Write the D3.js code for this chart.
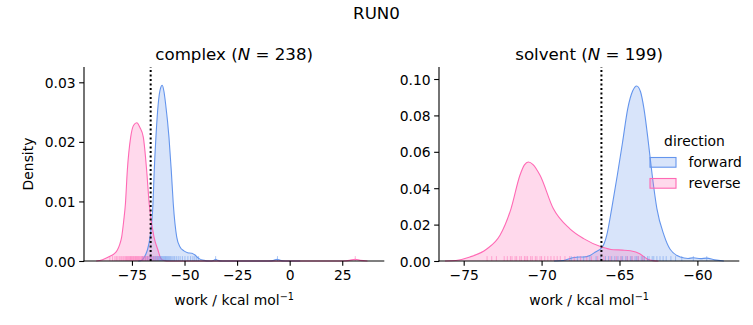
<!DOCTYPE html>
<html>
<head>
<meta charset="utf-8">
<script src="https://cdn.jsdelivr.net/npm/d3@7"></script>
<style>
  html, body { margin: 0; padding: 0; background: #fff; }
  svg { display: block; font-family: "DejaVu Sans", sans-serif; }
</style>
</head>
<body>
<svg id="chart" width="753" height="325"></svg>
<script>
// ---------------- data ----------------
const directions = ["forward", "reverse"];
const colors = ["#6495ED", "#FF69B4"];
const phases = ["complex", "solvent"];
const phaseN = [238, 199];
const refLine = [-66.1, -66.16];

// KDE curves: [work, density]
const complexForward = [
  [-72, 0], [-70.5, 0.0001], [-69.6, 0.0004], [-68.6, 0.0010], [-67.7, 0.0018], [-66.4, 0.0040],
  [-65.0, 0.0096], [-64.4, 0.0152], [-63.6, 0.0208], [-62.5, 0.0264], [-61.5, 0.0289],
  [-60.6, 0.0295], [-59.8, 0.0285], [-59.0, 0.0264], [-57.4, 0.0208], [-56.3, 0.0152],
  [-55.35, 0.0096], [-53.7, 0.0040], [-52.2, 0.0024], [-50.3, 0.0017], [-48.5, 0.0014],
  [-46.5, 0.0013], [-45.0, 0.0010], [-43.1, 0.0004], [-40.7, 0.0001], [-38, 0.0000],
  [-36.2, 0.0001], [-35.2, 0.0003], [-34.2, 0.0001], [-32, 0], [-10, 0], [-7.5, 0.0001],
  [-6.0, 0.0003], [-4.5, 0.0001], [-2, 0], [5, 0]
];
const complexReverse = [
  [-92, 0], [-89, 0.0002], [-86, 0.0007], [-83.5, 0.0012], [-82.0, 0.0018], [-80.8, 0.0028],
  [-79.9, 0.0040], [-78.9, 0.0068], [-78.1, 0.0096], [-77.2, 0.0152], [-75.6, 0.0208],
  [-74.2, 0.0228], [-72.7, 0.0232], [-71.2, 0.0224], [-69.6, 0.0208], [-68.0, 0.0152],
  [-66.8, 0.0096], [-64.5, 0.0040], [-62.6, 0.0018], [-61.5, 0.0006], [-60.0, 0.0001],
  [-57, 0], [25, 0], [28.5, 0.0001], [31.2, 0.0003], [33.5, 0.0001], [37, 0]
];
const solventForward = [
  [-69.2, 0], [-68.6, 0.0003], [-68.0, 0.0018], [-67.6, 0.0022], [-67.3, 0.0022],
  [-66.9, 0.0030], [-66.57, 0.0048], [-66.1, 0.0077], [-65.82, 0.0141], [-65.5, 0.0288],
  [-65.14, 0.0471], [-64.8, 0.0654], [-64.47, 0.0837], [-64.15, 0.0935], [-63.9, 0.0962],
  [-63.65, 0.0930], [-63.43, 0.0837], [-63.15, 0.0654], [-62.9, 0.0471], [-62.6, 0.0288],
  [-62.14, 0.0141], [-61.76, 0.0066], [-61.1, 0.0022], [-60.6, 0.0014], [-60.26, 0.0018],
  [-59.8, 0.0013], [-59.4, 0.0016], [-58.9, 0.0006], [-58.3, 0]
];
const solventReverse = [
  [-76.2, 0], [-75.5, 0.0003], [-74.6, 0.0022], [-73.52, 0.0066], [-72.67, 0.0141],
  [-71.96, 0.0288], [-71.39, 0.0471], [-71.1, 0.0528], [-70.85, 0.0544], [-70.55, 0.0530],
  [-70.1, 0.0471], [-69.25, 0.0288], [-68.2, 0.0178], [-67.3, 0.0123], [-66.14, 0.0077],
  [-65.4, 0.0062], [-64.8, 0.0060], [-64.3, 0.0056], [-63.7, 0.0040], [-63.25, 0.0013],
  [-62.85, 0.0002], [-62.5, 0]
];

// rug samples (work values)
const complexForwardRug = [-69.8, -68.5, -67.6, -66.8, -66.1, -65.5, -64.9, -64.4, -63.9, -63.4, -63.0,
  -62.6, -62.2, -61.8, -61.4, -61.0, -60.6, -60.2, -59.8, -59.4, -59.0, -58.6, -58.1, -57.6, -57.1,
  -56.6, -56.0, -55.4, -54.7, -53.9, -53.0, -52.1, -51.0, -49.8, -48.4, -47.1, -46.0, -45.1, -44.2,
  -43.3, -35.2, -5.8];
const complexReverseRug = [-85.5, -84.2, -83.1, -82.4, -81.7, -81.0, -80.3, -79.8, -79.2, -78.7, -78.1,
  -77.6, -77.2, -76.8, -76.4, -76.0, -75.7, -75.3, -75.0, -74.6, -74.3, -73.9, -73.5, -73.2, -72.9,
  -72.5, -72.2, -71.8, -71.5, -71.1, -70.7, -70.4, -70.0, -69.6, -69.2, -68.8, -68.3, -67.9, -67.4,
  -66.9, -66.3, -65.6, -64.8, -63.9, -62.7, 31.2];
const solventForwardRug = [-68.1, -67.7, -67.3, -66.9, -66.5, -66.2, -65.9, -65.7, -65.5, -65.3, -65.1,
  -64.9, -64.8, -64.6, -64.5, -64.3, -64.2, -64.0, -63.9, -63.8, -63.6, -63.5, -63.4, -63.2, -63.1,
  -62.9, -62.8, -62.6, -62.4, -62.2, -62.0, -61.7, -61.4, -61.0, -60.26, -59.4];
const solventReverseRug = [-73.5, -73.2, -72.9, -72.4, -72.2, -72.0, -71.9, -71.7, -71.6, -71.4, -71.3,
  -71.1, -71.0, -70.9, -70.7, -70.6, -70.4, -70.3, -70.1, -70.0, -69.8, -69.6, -69.4, -69.2, -69.0,
  -68.8, -68.5, -68.2, -67.9, -67.5, -67.1, -66.8, -66.4, -66.0, -65.6, -65.2, -64.9, -64.5, -64.2,
  -63.8, -63.5];

const xTicksComplex = [-75, -50, -25, 0, 25];
const yTicksComplex = [0, 0.01, 0.02, 0.03];
const xTicksSolvent = [-75, -70, -65, -60];
const yTicksSolvent = [0, 0.02, 0.04, 0.06, 0.08, 0.10];

// ---------------- layout ----------------
const svg = d3.select("#chart");
const FONT = 13.89;
const minus = s => s.replace(/-/g, "\u2212");

const panels = [
  { name: phases[0], n: phaseN[0], left: 84, right: 384.3, xDom: [-97.8, 45.0], yDom: [0, 0.03257],
    curves: [complexForward, complexReverse], rugs: [complexForwardRug, complexReverseRug],
    xTicks: xTicksComplex, yTicks: yTicksComplex, xFmt: d3.format("d"), ref: refLine[0], ylabel: true },
  { name: phases[1], n: phaseN[1], left: 439, right: 739.3, xDom: [-76.585, -57.31], yDom: [0, 0.1066],
    curves: [solventForward, solventReverse], rugs: [solventForwardRug, solventReverseRug],
    xTicks: xTicksSolvent, yTicks: yTicksSolvent, xFmt: d3.format("d"), ref: refLine[1], ylabel: false, legend: true }
];
const axTop = 67, axBottom = 261;

svg.append("text").attr("x", 376.5).attr("y", 19).attr("text-anchor", "middle")
  .attr("font-size", 16.67).attr("fill", "#000").text("RUN0");

panels.forEach(p => {
  const x = d3.scaleLinear().domain(p.xDom).range([p.left, p.right]);
  const y = d3.scaleLinear().domain(p.yDom).range([axBottom, axTop]);
  const g = svg.append("g");

  const area = d3.area().x(d => x(d[0])).y0(y(0)).y1(d => y(d[1])).curve(d3.curveMonotoneX);
  const line = d3.line().x(d => x(d[0])).y(d => y(d[1])).curve(d3.curveMonotoneX);

  p.curves.forEach((c, i) => {
    g.append("path").attr("d", area(c)).attr("fill", colors[i]).attr("fill-opacity", 0.25).attr("stroke", "none");
  });
  p.curves.forEach((c, i) => {
    g.append("path").attr("d", line(c)).attr("fill", "none").attr("stroke", colors[i]).attr("stroke-width", 1.1);
  });

  // rugs
  p.rugs.forEach((r, i) => {
    g.append("g").selectAll("line").data(r).join("line")
      .attr("x1", d => x(d)).attr("x2", d => x(d))
      .attr("y1", axBottom).attr("y2", axBottom - 4.9)
      .attr("stroke", colors[i]).attr("stroke-width", 1).attr("stroke-opacity", 0.5);
  });

  // reference dotted line
  g.append("line").attr("x1", x(p.ref)).attr("x2", x(p.ref)).attr("y1", axBottom).attr("y2", axTop)
    .attr("stroke", "#000").attr("stroke-width", 2).attr("stroke-dasharray", "2,2.5");

  // axes
  const xAxis = d3.axisBottom(x).tickValues(p.xTicks).tickSize(4.86).tickPadding(3.6)
    .tickFormat(d => minus(p.xFmt(d)));
  const yAxis = d3.axisLeft(y).tickValues(p.yTicks).tickSize(4.86).tickPadding(3.6)
    .tickFormat(d => minus(d3.format(".2f")(d)));
  const ax = g.append("g").attr("transform", `translate(0,${axBottom})`).call(xAxis);
  const ay = g.append("g").attr("transform", `translate(${p.left},0)`).call(yAxis);
  [ax, ay].forEach(a => {
    a.select(".domain").remove();
    a.selectAll(".tick line").attr("stroke", "#000").attr("stroke-width", 1.1);
    a.selectAll(".tick text").attr("font-size", FONT).attr("font-family", "DejaVu Sans").attr("fill", "#000");
  });
  ax.selectAll(".tick text").attr("dy", null).attr("y", 18.5);
  ay.selectAll(".tick text").attr("dy", "0.36em");

  // spines
  g.append("line").attr("x1", p.left).attr("x2", p.left).attr("y1", axTop).attr("y2", axBottom + 0.5)
    .attr("stroke", "#000").attr("stroke-width", 1.1);
  g.append("line").attr("x1", p.left - 0.5).attr("x2", p.right).attr("y1", axBottom).attr("y2", axBottom)
    .attr("stroke", "#000").attr("stroke-width", 1.1);

  const cx = (p.left + p.right) / 2;
  // title
  const t = g.append("text").attr("x", cx).attr("y", 59.5).attr("text-anchor", "middle")
    .attr("font-size", 16.67).attr("fill", "#000");
  t.append("tspan").text(p.name + " (");
  t.append("tspan").attr("font-style", "italic").text("N");
  t.append("tspan").text(" = " + p.n + ")");

  // x label
  const xl = g.append("text").attr("x", cx).attr("y", 305).attr("text-anchor", "middle")
    .attr("font-size", FONT).attr("fill", "#000");
  xl.append("tspan").text("work / kcal mol");
  xl.append("tspan").attr("font-size", 9.7).attr("dy", -5.5).text("\u22121");

  if (p.ylabel) {
    g.append("text").attr("transform", `translate(32.5,${(axTop + axBottom) / 2}) rotate(-90)`)
      .attr("text-anchor", "middle").attr("font-size", FONT).attr("fill", "#000").text("Density");
  }

  if (p.legend) {
    const lg = svg.append("g");
    lg.append("text").attr("x", 694.5).attr("y", 146).attr("text-anchor", "middle")
      .attr("font-size", FONT).attr("fill", "#000").text("direction");
    directions.forEach((d, i) => {
      const yy = 157.5 + i * 21;
      lg.append("rect").attr("x", 650).attr("y", yy).attr("width", 26).attr("height", 9.7)
        .attr("fill", colors[i]).attr("fill-opacity", 0.25).attr("stroke", colors[i]).attr("stroke-width", 1.1);
      lg.append("text").attr("x", 688.5).attr("y", yy + 9.2).attr("font-size", FONT).attr("fill", "#000").text(d);
    });
  }
});
</script>
</body>
</html>
